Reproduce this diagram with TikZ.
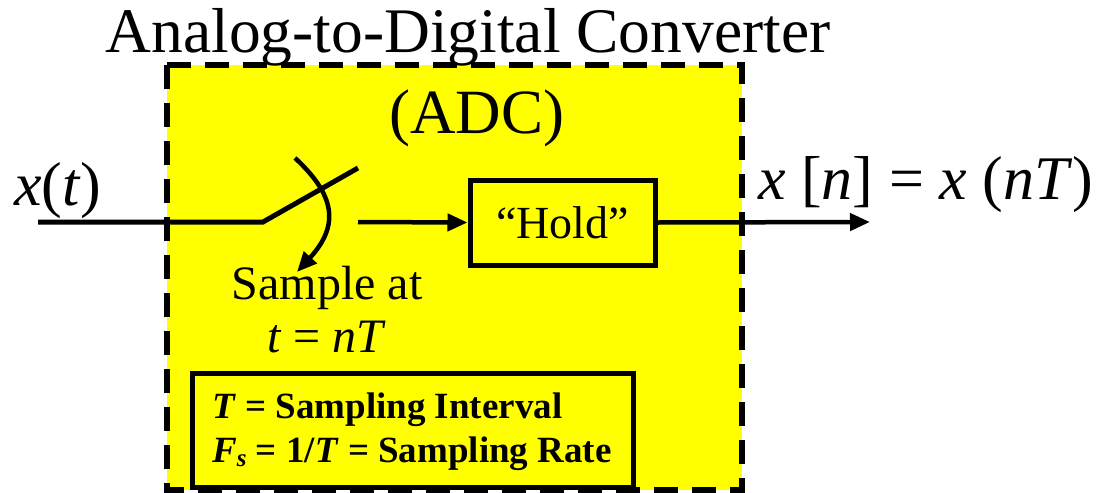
\documentclass[tikz,border=0pt]{standalone}
\usepackage{fontspec}
\setmainfont{Liberation Serif}
\usepackage{xcolor}
\usetikzlibrary{arrows.meta}

\definecolor{adcyellow}{RGB}{255,255,0}
\tikzset{
  wire/.style={line width=5pt},
  sig/.style={line width=4.5pt,-{Triangle[length=20pt,width=17pt]}},
  blockbox/.style={draw,line width=5pt,inner sep=0pt}
}

\begin{document}
\begin{tikzpicture}[x=1pt,y=-1pt]
\useasboundingbox (0,0) rectangle (1104,493);
% the converter
\draw[fill=adcyellow,line width=6pt,dash pattern=on 24pt off 14pt] (167,65) rectangle (742,490);
\node[anchor=base,inner sep=0pt,font=\fontsize{63.5}{63.5}\selectfont] (title) at (468,52) {Analog-to-Digital Converter};
\node[anchor=base,inner sep=0pt,font=\fontsize{63}{63}\selectfont] (adc) at (477,133) {(ADC)};

% input and switch
\node[anchor=base west,inner sep=0pt,font=\fontsize{62}{62}\selectfont] (xt) at (14,205) {\textit{x}(\textit{t})};
\coordinate (in) at (38,222);
\coordinate (pivot) at (263,222);
\coordinate (blade) at (358,168);
\draw[wire] (in) -- (pivot) -- (blade);
\coordinate (cs) at (295,158);
\coordinate (ce) at (297,272);
\draw[line width=4.5pt,-{Triangle[length=20pt,width=17pt]}] (cs) .. controls (335,195) and (340,225) .. (ce);
\node[anchor=base,inner sep=0pt,font=\fontsize{48}{48}\selectfont] (samp) at (327,299) {Sample at};
\node[anchor=base,inner sep=0pt,font=\fontsize{48}{48}\selectfont] (tnt) at (327,352) {\textit{t} = \textit{nT}};

% hold
\node[blockbox,minimum width=185pt,minimum height=85pt,font=\fontsize{46}{46}\selectfont] (hold) at (562.5,222.5) {“Hold”};
\coordinate (swout) at (358,222);
\draw[sig] (swout) -- (hold.west);
\coordinate (out) at (870,222);
\draw[sig] (hold.east) -- (out);
\node[anchor=base west,inner sep=0pt,font=\fontsize{62}{62}\selectfont] (xn) at (758,199) {\textit{x} [\textit{n}] = \textit{x} (\textit{nT})};

% definitions
\node[blockbox,minimum width=441pt,minimum height=114pt] (defs) at (413,430) {};
\node[anchor=base west,inner sep=0pt,font=\fontsize{37}{37}\selectfont\bfseries] (tdef) at (212,418) {\textit{T} = Sampling Interval};
\node[anchor=base west,inner sep=0pt,font=\fontsize{37}{37}\selectfont\bfseries] (fdef) at (212,462) {\textit{F}\raisebox{-0.25ex}{\fontsize{25}{25}\selectfont\textit{s}} = 1/\textit{T} = Sampling Rate};
\end{tikzpicture}
\end{document}
